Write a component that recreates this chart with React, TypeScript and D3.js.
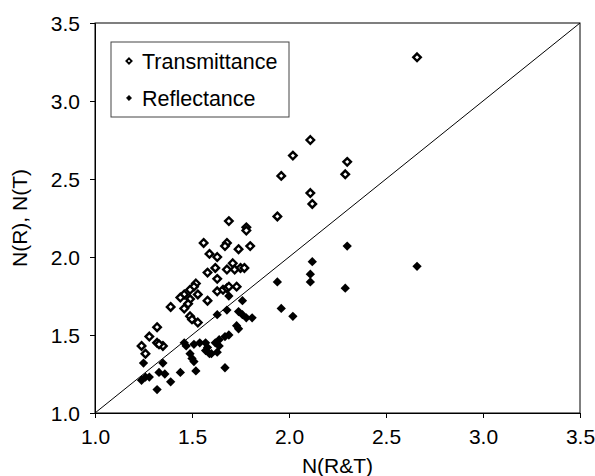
import React, { useEffect, useRef } from 'react';
import * as d3 from 'd3';

// Transmittance points [N(R&T), N(T)]
const transmittance: [number, number][] = [
  [2.66, 3.28],
  [2.11, 2.75], [2.02, 2.65], [1.96, 2.52], [2.3, 2.61], [2.29, 2.53], [2.11, 2.41], [2.12, 2.34], [1.94, 2.26],
  [1.69, 2.23], [1.78, 2.19], [1.78, 2.17], [1.56, 2.09], [1.68, 2.09], [1.67, 2.07], [1.74, 2.05], [1.8, 2.07],
  [1.59, 2.02], [1.63, 2.0], [1.71, 1.96], [1.62, 1.93], [1.58, 1.9], [1.68, 1.92], [1.72, 1.92], [1.75, 1.93], [1.77, 1.93],
  [1.63, 1.86], [1.52, 1.83], [1.51, 1.81], [1.49, 1.79], [1.46, 1.76], [1.44, 1.74], [1.53, 1.76], [1.49, 1.73],
  [1.48, 1.7], [1.46, 1.67], [1.58, 1.72], [1.63, 1.78], [1.66, 1.79], [1.68, 1.8], [1.69, 1.81], [1.73, 1.81],
  [1.39, 1.68], [1.49, 1.62], [1.5, 1.6], [1.53, 1.58], [1.32, 1.55], [1.28, 1.49], [1.32, 1.45], [1.35, 1.43],
  [1.24, 1.43], [1.26, 1.38], [1.33, 1.44],
];

// Reflectance points [N(R&T), N(R)]
const reflectance: [number, number][] = [
  [2.66, 1.94], [2.3, 2.07], [2.12, 1.97], [2.11, 1.89], [2.11, 1.84], [1.94, 1.84], [2.29, 1.8], [1.96, 1.67], [2.02, 1.62],
  [1.69, 1.75], [1.76, 1.72], [1.68, 1.66], [1.63, 1.63], [1.74, 1.65], [1.76, 1.63], [1.78, 1.61], [1.81, 1.61],
  [1.73, 1.56], [1.74, 1.54], [1.69, 1.5], [1.67, 1.49], [1.64, 1.47], [1.62, 1.45], [1.46, 1.45], [1.47, 1.43],
  [1.51, 1.44], [1.54, 1.45], [1.57, 1.45], [1.58, 1.42], [1.59, 1.38], [1.49, 1.38],
  [1.25, 1.32], [1.24, 1.21], [1.26, 1.23], [1.28, 1.23], [1.32, 1.15], [1.33, 1.26], [1.36, 1.25], [1.35, 1.32],
  [1.39, 1.2], [1.44, 1.26], [1.52, 1.27], [1.67, 1.29], [1.5, 1.35], [1.51, 1.33], [1.57, 1.4], [1.6, 1.38],
  [1.63, 1.39], [1.64, 1.43],
];

const ticks = [1.0, 1.5, 2.0, 2.5, 3.0, 3.5];
const legendLabels = ['Transmittance', 'Reflectance'];

const App: React.FC = () => {
  const chartRef = useRef<SVGSVGElement>(null);

  useEffect(() => {
    document.body.style.margin = '0';
    const svg = d3.select(chartRef.current);
    svg.selectAll('*').remove();

    const margin = { top: 23, right: 15, bottom: 63, left: 95 };
    const width = 595 - margin.left - margin.right;
    const height = 476 - margin.top - margin.bottom;
    const font = 'Liberation Sans, Arial, sans-serif';

    const g = svg.append('g').attr('transform', `translate(${margin.left},${margin.top})`);

    const x = d3.scaleLinear().domain([1, 3.5]).range([0, width]);
    const y = d3.scaleLinear().domain([1, 3.5]).range([height, 0]);

    // frame
    g.append('rect')
      .attr('width', width)
      .attr('height', height)
      .attr('fill', 'none')
      .attr('stroke', '#000')
      .attr('stroke-width', 1);

    const xAxis = g
      .append('g')
      .attr('transform', `translate(0,${height})`)
      .call(d3.axisBottom(x).tickValues(ticks).tickFormat(d3.format('.1f')).tickSize(5).tickPadding(11));
    const yAxis = g
      .append('g')
      .call(d3.axisLeft(y).tickValues(ticks).tickFormat(d3.format('.1f')).tickSize(5).tickPadding(10));
    [xAxis, yAxis].forEach((a) => {
      a.select('.domain').attr('stroke', '#000');
      a.selectAll('text').attr('font-family', font).attr('font-size', 21).attr('fill', '#000');
    });
    yAxis.selectAll('text').attr('dy', '0.35em');

    // y = x reference line
    g.append('line')
      .attr('x1', x(1))
      .attr('y1', y(1))
      .attr('x2', x(3.5))
      .attr('y2', y(3.5))
      .attr('stroke', '#000')
      .attr('stroke-width', 1);

    g.append('g')
      .selectAll('path')
      .data(reflectance)
      .join('path')
      .attr('d', d3.symbol().type(d3.symbolDiamond2).size(55))
      .attr('transform', (d) => `translate(${x(d[0])},${y(d[1])})`)
      .attr('fill', '#000');

    g.append('g')
      .selectAll('path')
      .data(transmittance)
      .join('path')
      .attr('d', d3.symbol().type(d3.symbolDiamond2).size(36))
      .attr('transform', (d) => `translate(${x(d[0])},${y(d[1])})`)
      .attr('fill', '#fff')
      .attr('stroke', '#000')
      .attr('stroke-width', 2.4);

    // legend
    const legend = svg.append('g').attr('transform', 'translate(111,42)');
    legend
      .append('rect')
      .attr('width', 178)
      .attr('height', 75)
      .attr('fill', '#fff')
      .attr('stroke', '#444')
      .attr('stroke-width', 1);
    legendLabels.forEach((label, i) => {
      const cy = 19 + i * 37;
      legend
        .append('path')
        .attr('d', d3.symbol().type(d3.symbolDiamond2).size(18))
        .attr('transform', `translate(18,${cy})`)
        .attr('fill', i === 0 ? '#fff' : '#000')
        .attr('stroke', '#000')
        .attr('stroke-width', i === 0 ? 1.8 : 0.5);
      legend
        .append('text')
        .attr('x', 31)
        .attr('y', cy)
        .attr('dy', '0.35em')
        .attr('font-family', font)
        .attr('font-size', 21.5)
        .text(label);
    });

    // axis titles
    svg
      .append('text')
      .attr('x', margin.left + width / 2)
      .attr('y', 473)
      .attr('text-anchor', 'middle')
      .attr('font-family', font)
      .attr('font-size', 21)
      .text('N(R&T)');
    svg
      .append('text')
      .attr('transform', `translate(27,${margin.top + height / 2}) rotate(-90)`)
      .attr('text-anchor', 'middle')
      .attr('font-family', font)
      .attr('font-size', 21)
      .text('N(R), N(T)');
  }, []);

  return <svg ref={chartRef} width={595} height={476} style={{ display: 'block', background: '#fff' }}></svg>;
};

export default App;
